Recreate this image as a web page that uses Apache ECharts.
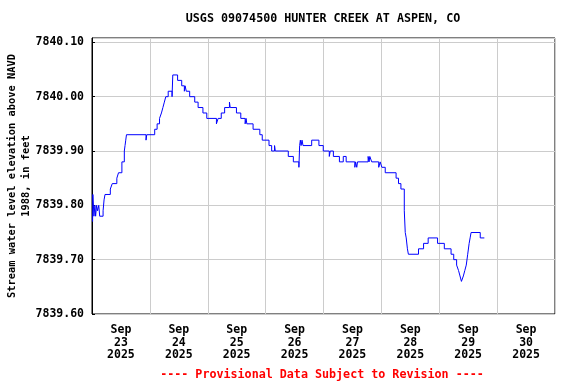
<!DOCTYPE html>
<html>
<head>
<meta charset="utf-8">
<script src="https://cdn.jsdelivr.net/npm/echarts@6/dist/echarts.min.js"></script>
<style>
  html, body { margin: 0; padding: 0; background: #fff; }
  #chart { width: 576px; height: 384px; }
</style>
</head>
<body>
<div id="chart"></div>
<script>
// hours since 2025-09-23 00:00, gage height held until the next reading
const hours = [
  0.25, 0.35, 0.8, 1.2, 1.5, 1.9, 2.3, 2.8, 3.2, 4.6, 5.0, 5.4, 7.6, 8.4, 10.3, 11.0,
  12.4, 13.4, 13.7, 14.0, 14.3, 22.4, 22.7, 26.0, 27.0, 28.0, 28.8, 29.4, 30.0, 30.6,
  31.6, 33.2, 33.5, 35.5, 37.2, 38.3, 38.6, 39.1, 40.5, 42.6, 44.0, 46.0, 47.6, 51.6,
  52.3, 53.6, 55.0, 57.0, 57.3, 59.9, 61.7, 63.5, 63.9, 64.2, 66.8, 69.6, 70.6, 73.4,
  74.5, 75.7, 76.0, 81.4, 83.5, 85.8, 86.1, 86.4, 86.7, 87.1, 87.5, 91.1, 94.1, 95.9,
  98.4, 98.8, 100.1, 102.6, 104.2, 105.4, 109.0, 109.3, 109.8, 110.1, 114.5, 114.9,
  115.2, 116.0, 118.9, 119.5, 120.2, 121.6, 126.1, 127.1, 128.1, 129.5, 129.9, 130.3,
  130.8, 131.2, 135.4, 137.5, 139.4, 143.3, 146.1, 148.9, 150.0, 151.2, 152.0, 152.6,
  153.2, 154.0, 154.6, 155.2, 155.8, 156.4, 156.8, 157.2, 161.0, 162.7
]
const level = [
  7839.77, 7839.82, 7839.78, 7839.80, 7839.78, 7839.80, 7839.79, 7839.80, 7839.78, 7839.79, 7839.81, 7839.82, 7839.83, 7839.84, 7839.85, 7839.86,
  7839.88, 7839.90, 7839.91, 7839.92, 7839.93, 7839.92, 7839.93, 7839.94, 7839.95, 7839.96, 7839.97, 7839.98, 7839.99, 7840.00,
  7840.01, 7840.00, 7840.04, 7840.03, 7840.02, 7840.01, 7840.02, 7840.01, 7840.00, 7839.99, 7839.98, 7839.97, 7839.96, 7839.95,
  7839.96, 7839.97, 7839.98, 7839.99, 7839.98, 7839.97, 7839.96, 7839.95, 7839.96, 7839.95, 7839.94, 7839.93, 7839.92, 7839.91,
  7839.90, 7839.91, 7839.90, 7839.89, 7839.88, 7839.87, 7839.91, 7839.92, 7839.91, 7839.92, 7839.91, 7839.92, 7839.91, 7839.90,
  7839.89, 7839.90, 7839.89, 7839.88, 7839.89, 7839.88, 7839.87, 7839.88, 7839.87, 7839.88, 7839.89, 7839.88,
  7839.89, 7839.88, 7839.87, 7839.88, 7839.87, 7839.86, 7839.85, 7839.84, 7839.83, 7839.79, 7839.75, 7839.74,
  7839.72, 7839.71, 7839.72, 7839.73, 7839.74, 7839.73, 7839.72, 7839.71, 7839.70, 7839.69, 7839.68, 7839.67,
  7839.66, 7839.67, 7839.68, 7839.69, 7839.71, 7839.73, 7839.74, 7839.75, 7839.74, 7839.74
]
const dayLabels = ['Sep\n23\n2025', 'Sep\n24\n2025', 'Sep\n25\n2025', 'Sep\n26\n2025',
  'Sep\n27\n2025', 'Sep\n28\n2025', 'Sep\n29\n2025', 'Sep\n30\n2025']

const titleText = 'USGS 09074500 HUNTER CREEK AT ASPEN, CO'
const footText = '---- Provisional Data Subject to Revision ----'
const yName = 'Stream water level elevation above NAVD\n1988, in feet'

const font = 'DejaVu Sans Mono'
const chart = echarts.init(document.getElementById('chart'))

chart.setOption({
  animation: false,
  grid: {
    left: 92, right: 21, top: 38, bottom: 70,
    containLabel: false, outerBoundsMode: 'none',
    show: true, borderColor: '#000', borderWidth: 1,
  },
  graphic: [
    {
      type: 'text', x: 323, y: 19,
      style: { text: titleText, fill: '#000', font: `bold 11.7px "${font}"`, textAlign: 'center', textVerticalAlign: 'middle' },
    },
    {
      type: 'text', x: 322, y: 375,
      style: { text: footText, fill: '#ff0000', font: `bold 11.7px "${font}"`, textAlign: 'center', textVerticalAlign: 'middle' },
    },
  ],
  xAxis: [
    { type: 'value', min: 0, max: 192, show: false },
    {
      type: 'category',
      data: dayLabels,
      boundaryGap: true,
      position: 'bottom',
      axisLine: { show: false },
      axisTick: { show: false },
      splitLine: { show: true, lineStyle: { color: '#cccccc', width: 1 } },
      axisLabel: { color: '#000', fontFamily: font, fontWeight: 'bold', fontSize: 11.5, lineHeight: 12.5, margin: 10 },
    },
  ],
  yAxis: {
    type: 'value',
    min: 7839.6,
    max: 7840.108,
    interval: 0.1,
    name: yName,
    nameLocation: 'middle',
    nameGap: 58,
    nameMoveOverlap: false,
    nameTextStyle: { color: '#000', fontFamily: font, fontWeight: 'bold', fontSize: 10.4, lineHeight: 14.5 },
    axisLine: { show: true, lineStyle: { color: '#000' } },
    axisTick: { show: true, inside: true, length: 3, lineStyle: { color: '#000' } },
    splitLine: { show: true, lineStyle: { color: '#cccccc', width: 1 } },
    axisLabel: {
      showMaxLabel: false,
      color: '#000', fontFamily: font, fontWeight: 'bold', fontSize: 11.5, margin: 8,
      formatter: (v) => v.toFixed(2),
    },
  },
  series: [{
    type: 'line',
    xAxisIndex: 0,
    step: 'end',
    showSymbol: false,
    lineStyle: { color: '#0000ff', width: 1 },
    data: hours.map((h, i) => [h, level[i]]),
  }],
})
</script>
</body>
</html>
